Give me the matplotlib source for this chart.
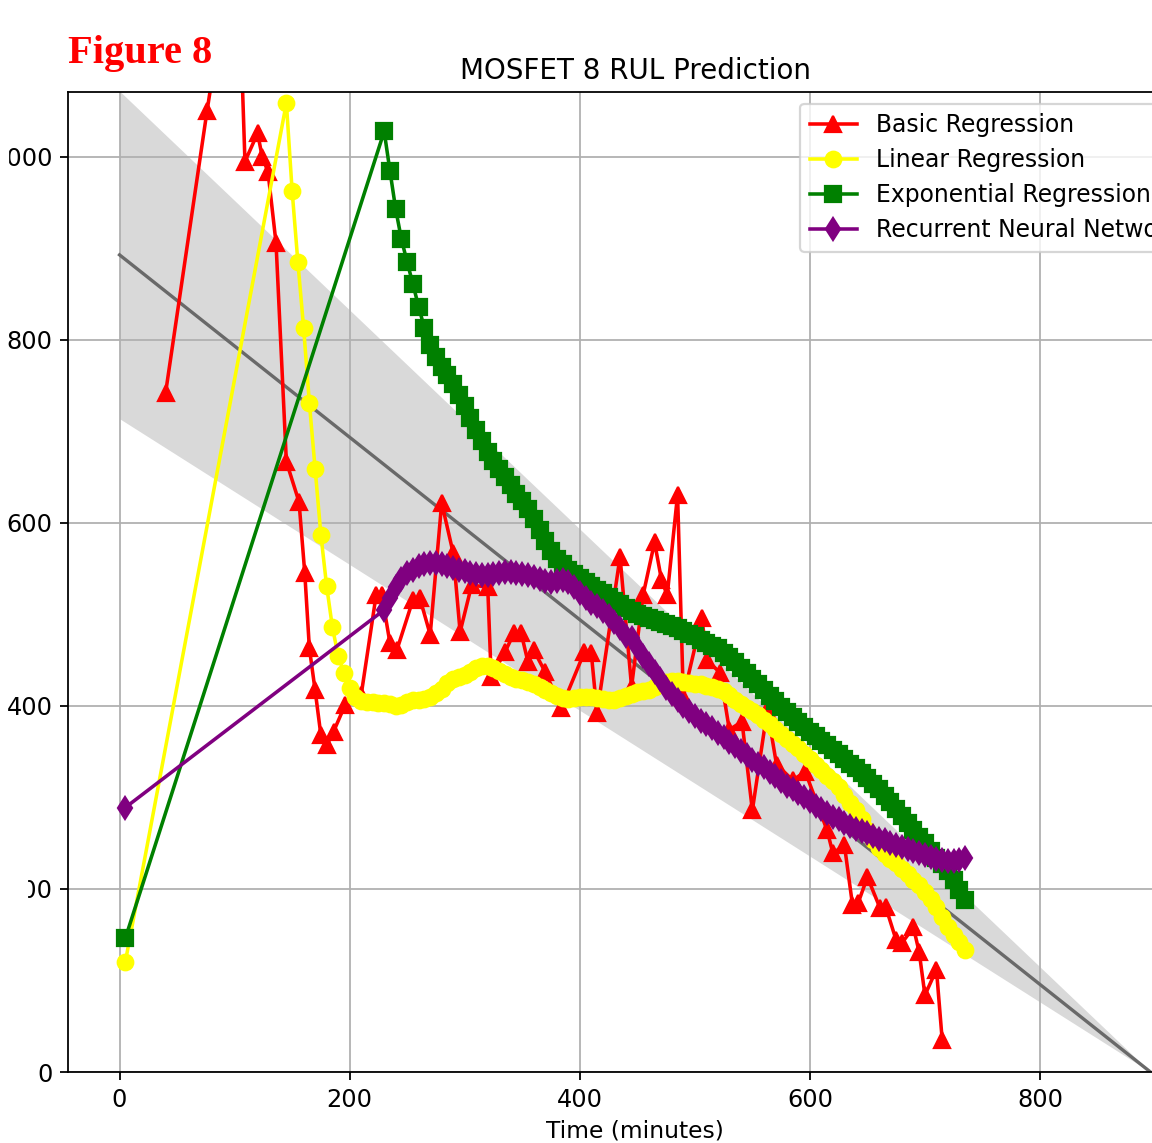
import matplotlib.pyplot as plt
import matplotlib.patches as mpatches
import numpy as np

# ── data ────────────────────────────────────────────────────────────────────
reg_x = [0, 896]
reg_y = [893, 0]
band_upper = [1072, 0]
band_lower = [714, 0]

basic_t = [40, 76, 102, 109, 120, 124, 129, 136, 145, 156, 161, 165, 170, 175,
           180, 186, 196, 210, 223, 228, 235, 241, 255, 261, 270, 280, 290, 296,
           306, 320, 323, 335, 343, 349, 355, 360, 370, 384, 404, 410, 415, 435,
           445, 455, 465, 471, 476, 485, 490, 506, 511, 522, 530, 541, 550, 563,
           571, 585, 596, 615, 620, 630, 637, 642, 650, 661, 666, 675, 680, 690,
           695, 700, 710, 715]
basic_v = [742, 1050, 1260, 995, 1026, 1000, 984, 906, 667, 623, 545, 463, 417, 368,
           357, 372, 401, 412, 521, 521, 469, 461, 516, 518, 478, 622, 567, 481,
           532, 530, 432, 459, 480, 480, 448, 461, 437, 398, 459, 458, 392, 563,
           421, 521, 579, 538, 521, 631, 410, 496, 450, 436, 374, 383, 286, 396,
           336, 319, 328, 264, 239, 248, 183, 185, 213, 179, 180, 144, 141, 158,
           131, 84, 112, 35]

linear_first = (5, 120)
linear_v = [1059, 963, 885, 813, 731, 659, 587, 531, 486, 455, 436, 420, 410, 405,
            404, 404, 403, 403, 402, 400, 401, 404, 406, 407, 408, 410, 414, 419,
            425, 430, 432, 434, 437, 441, 444, 444, 441, 438, 435, 432, 430, 428,
            426, 424, 421, 418, 414, 411, 409, 408, 409, 410, 410, 410, 409, 408,
            407, 407, 409, 411, 413, 415, 416, 418, 421, 424, 426, 427, 427, 426,
            425, 424, 424, 422, 421, 419, 416, 412, 407, 402, 398, 394, 390, 385,
            380, 375, 369, 364, 359, 354, 348, 342, 336, 330, 323, 318, 311, 303,
            294, 286, 277, 265, 253, 245, 238, 233, 228, 222, 216, 210, 204, 197,
            189, 180, 169, 159, 150, 142, 133]

expo_first = (5, 146)
expo_v = [1028, 985, 943, 910, 885, 861, 836, 813, 795, 781, 771, 762, 752, 740,
          728, 715, 702, 690, 678, 668, 659, 650, 641, 632, 624, 615, 604, 592,
          580, 569, 561, 555, 549, 544, 540, 535, 531, 527, 523, 519, 515, 511,
          507, 504, 500, 498, 496, 494, 492, 490, 487, 485, 482, 479, 476, 472,
          469, 466, 463, 458, 453, 448, 442, 436, 430, 424, 418, 411, 405, 399,
          393, 388, 383, 377, 372, 367, 362, 357, 352, 347, 342, 337, 332, 327,
          321, 315, 309, 302, 295, 287, 280, 272, 265, 257, 250, 242, 234, 227,
          220, 210, 199, 188]

rnn_first = (5, 289)
rnn_v = [505, 518, 530, 539, 545, 549, 553, 555, 556, 556, 555, 553, 551, 549,
         547, 545, 544, 543, 543, 544, 545, 546, 546, 545, 544, 543, 541, 539,
         537, 536, 537, 538, 536, 530, 524, 518, 513, 509, 504, 498, 492, 485,
         477, 474, 465, 455, 446, 437, 429, 420, 413, 406, 400, 394, 389, 384,
         380, 376, 371, 366, 361, 356, 351, 346, 341, 337, 333, 328, 323, 318,
         313, 309, 305, 300, 296, 291, 287, 283, 279, 276, 272, 269, 266, 263,
         261, 258, 255, 253, 250, 248, 246, 244, 241, 239, 237, 235, 233, 232,
         231, 231, 232, 234]

# sample times (5 minute steps)
linear_t = [linear_first[0]] + list(np.arange(145, 145 + 5 * len(linear_v), 5))
expo_t = [expo_first[0]] + list(np.arange(230, 230 + 5 * len(expo_v), 5))
rnn_t = [rnn_first[0]] + list(np.arange(230, 230 + 5 * len(rnn_v), 5))

# ── figure ──────────────────────────────────────────────────────────────────
fig = plt.figure(figsize=(1152 / 160, 1143 / 160), dpi=160)
ax = fig.add_axes([68 / 1152, 1 - 1072 / 1143, 1134 / 1152, 980 / 1143])

ax.fill_between(reg_x, band_lower, band_upper, color='#d9d9d9', linewidth=0)
ax.plot(reg_x, reg_y, color='dimgray', linewidth=1.5)

style = dict(linewidth=1.6, markersize=7)
ax.plot(basic_t, basic_v, color='red', marker='^', label='Basic Regression', **style)
ax.plot(linear_t, [linear_first[1]] + linear_v, color='yellow', marker='o',
        label='Linear Regression', **style)
ax.plot(expo_t, [expo_first[1]] + expo_v, color='green', marker='s',
        label='Exponential Regression', **style)
ax.plot(rnn_t, [rnn_first[1]] + rnn_v, color='purple', marker='d',
        label='Recurrent Neural Network', **style)

ax.set_xlim(-44.8, 940.8)
ax.set_ylim(0, 1071)
ax.set_xticks([0, 200, 400, 600, 800])
ax.set_yticks([0, 200, 400, 600, 800, 1000])
ax.tick_params(labelsize=10.8)
ax.set_xlabel('Time (minutes)', fontsize=10.5, labelpad=3.5)
ax.set_title('MOSFET 8 RUL Prediction', fontsize=12.5)
ax.grid(True)
ax.legend(loc='upper right', fontsize=10.6, labelspacing=0.47)

fig.text(68 / 1152, 1 - 63 / 1143, 'Figure 8', color='red', fontsize=18.2,
         fontweight='bold', family='Liberation Serif', va='baseline')

# the page covers the left part of two tick labels
for y_px, w_px in [(172, 8), (905, 27)]:
    fig.patches.append(mpatches.Rectangle((0, 1 - y_px / 1143), w_px / 1152,
                                          32 / 1143, transform=fig.transFigure,
                                          color='white', zorder=10))

fig.savefig('out.png', dpi=160)
